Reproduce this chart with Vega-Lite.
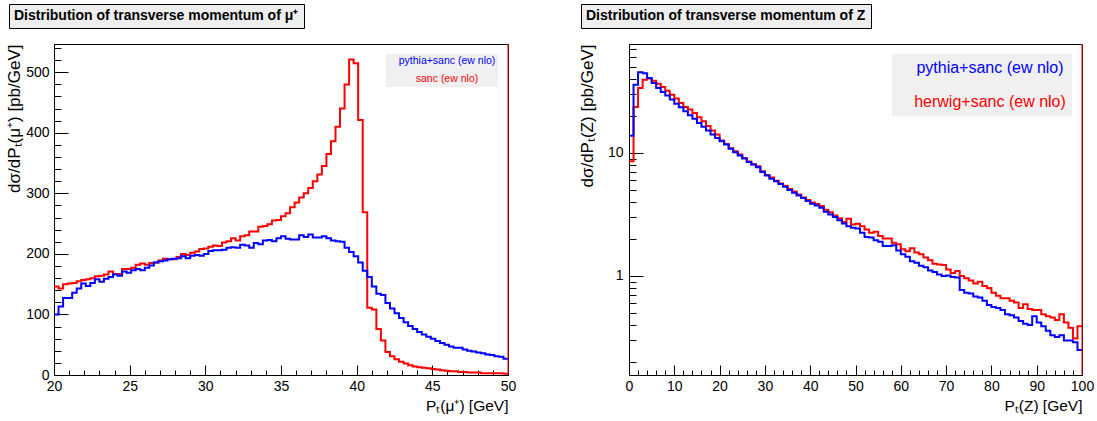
{
"$schema": "https://vega.github.io/schema/vega-lite/v6.json",
"background": "white",
"padding": {"left": 4, "top": 3, "right": 2, "bottom": 2},
"bounds": "flush",
"spacing": 121,
"config": {
 "font": "Liberation Sans",
 "view": {"stroke": "#000000", "strokeWidth": 1},
 "axis": {"grid": false, "domainColor": "#000000", "tickColor": "#000000", "labelColor": "#000000", "titleColor": "#000000", "labelFont": "Liberation Sans", "titleFont": "Liberation Sans", "labelFontSize": 13, "titleFontWeight": "normal", "labelFlush": false, "labelOverlap": false, "tickWidth": 1, "domainWidth": 1}
},
"resolve": {"scale": {"color": "independent", "opacity": "independent"}, "legend": {"color": "independent", "opacity": "independent"}},
"datasets": {
"mu": [
{"s":"sanc (ew nlo)","lo":20,"hi":20.3,"y":146},{"s":"sanc (ew nlo)","lo":20.3,"hi":20.6,"y":143},{"s":"sanc (ew nlo)","lo":20.6,"hi":20.9,"y":150},{"s":"sanc (ew nlo)","lo":20.9,"hi":21.2,"y":151},{"s":"sanc (ew nlo)","lo":21.2,"hi":21.5,"y":152},{"s":"sanc (ew nlo)","lo":21.5,"hi":21.8,"y":155},{"s":"sanc (ew nlo)","lo":21.8,"hi":22.1,"y":157},{"s":"sanc (ew nlo)","lo":22.1,"hi":22.4,"y":158},{"s":"sanc (ew nlo)","lo":22.4,"hi":22.7,"y":160},{"s":"sanc (ew nlo)","lo":22.7,"hi":23,"y":163},
{"s":"sanc (ew nlo)","lo":23,"hi":23.3,"y":164},{"s":"sanc (ew nlo)","lo":23.3,"hi":23.6,"y":166},{"s":"sanc (ew nlo)","lo":23.6,"hi":23.9,"y":171},{"s":"sanc (ew nlo)","lo":23.9,"hi":24.2,"y":167},{"s":"sanc (ew nlo)","lo":24.2,"hi":24.5,"y":167},{"s":"sanc (ew nlo)","lo":24.5,"hi":24.8,"y":175},{"s":"sanc (ew nlo)","lo":24.8,"hi":25.1,"y":175},{"s":"sanc (ew nlo)","lo":25.1,"hi":25.4,"y":177},{"s":"sanc (ew nlo)","lo":25.4,"hi":25.7,"y":182},{"s":"sanc (ew nlo)","lo":25.7,"hi":26,"y":184},
{"s":"sanc (ew nlo)","lo":26,"hi":26.3,"y":182},{"s":"sanc (ew nlo)","lo":26.3,"hi":26.6,"y":185},{"s":"sanc (ew nlo)","lo":26.6,"hi":26.9,"y":186},{"s":"sanc (ew nlo)","lo":26.9,"hi":27.2,"y":189},{"s":"sanc (ew nlo)","lo":27.2,"hi":27.5,"y":192},{"s":"sanc (ew nlo)","lo":27.5,"hi":27.8,"y":191},{"s":"sanc (ew nlo)","lo":27.8,"hi":28.1,"y":191},{"s":"sanc (ew nlo)","lo":28.1,"hi":28.4,"y":195},{"s":"sanc (ew nlo)","lo":28.4,"hi":28.7,"y":200},{"s":"sanc (ew nlo)","lo":28.7,"hi":29,"y":198},
{"s":"sanc (ew nlo)","lo":29,"hi":29.3,"y":202},{"s":"sanc (ew nlo)","lo":29.3,"hi":29.6,"y":204},{"s":"sanc (ew nlo)","lo":29.6,"hi":29.9,"y":208},{"s":"sanc (ew nlo)","lo":29.9,"hi":30.2,"y":209},{"s":"sanc (ew nlo)","lo":30.2,"hi":30.5,"y":212},{"s":"sanc (ew nlo)","lo":30.5,"hi":30.8,"y":214},{"s":"sanc (ew nlo)","lo":30.8,"hi":31.1,"y":213},{"s":"sanc (ew nlo)","lo":31.1,"hi":31.4,"y":219},{"s":"sanc (ew nlo)","lo":31.4,"hi":31.7,"y":221},{"s":"sanc (ew nlo)","lo":31.7,"hi":32,"y":226},
{"s":"sanc (ew nlo)","lo":32,"hi":32.3,"y":222},{"s":"sanc (ew nlo)","lo":32.3,"hi":32.6,"y":229},{"s":"sanc (ew nlo)","lo":32.6,"hi":32.9,"y":231},{"s":"sanc (ew nlo)","lo":32.9,"hi":33.2,"y":237},{"s":"sanc (ew nlo)","lo":33.2,"hi":33.5,"y":237},{"s":"sanc (ew nlo)","lo":33.5,"hi":33.8,"y":245},{"s":"sanc (ew nlo)","lo":33.8,"hi":34.1,"y":246},{"s":"sanc (ew nlo)","lo":34.1,"hi":34.4,"y":249},{"s":"sanc (ew nlo)","lo":34.4,"hi":34.7,"y":255},{"s":"sanc (ew nlo)","lo":34.7,"hi":35,"y":256},
{"s":"sanc (ew nlo)","lo":35,"hi":35.3,"y":262},{"s":"sanc (ew nlo)","lo":35.3,"hi":35.6,"y":267},{"s":"sanc (ew nlo)","lo":35.6,"hi":35.9,"y":277},{"s":"sanc (ew nlo)","lo":35.9,"hi":36.2,"y":285},{"s":"sanc (ew nlo)","lo":36.2,"hi":36.5,"y":293},{"s":"sanc (ew nlo)","lo":36.5,"hi":36.8,"y":300},{"s":"sanc (ew nlo)","lo":36.8,"hi":37.1,"y":309},{"s":"sanc (ew nlo)","lo":37.1,"hi":37.4,"y":320},{"s":"sanc (ew nlo)","lo":37.4,"hi":37.7,"y":331},{"s":"sanc (ew nlo)","lo":37.7,"hi":38,"y":345},
{"s":"sanc (ew nlo)","lo":38,"hi":38.3,"y":365},{"s":"sanc (ew nlo)","lo":38.3,"hi":38.6,"y":386},{"s":"sanc (ew nlo)","lo":38.6,"hi":38.9,"y":410},{"s":"sanc (ew nlo)","lo":38.9,"hi":39.2,"y":440},{"s":"sanc (ew nlo)","lo":39.2,"hi":39.5,"y":480},{"s":"sanc (ew nlo)","lo":39.5,"hi":39.8,"y":521},{"s":"sanc (ew nlo)","lo":39.8,"hi":40.1,"y":515},{"s":"sanc (ew nlo)","lo":40.1,"hi":40.4,"y":421},{"s":"sanc (ew nlo)","lo":40.4,"hi":40.7,"y":269},{"s":"sanc (ew nlo)","lo":40.7,"hi":41,"y":111},
{"s":"sanc (ew nlo)","lo":41,"hi":41.3,"y":108},{"s":"sanc (ew nlo)","lo":41.3,"hi":41.6,"y":76},{"s":"sanc (ew nlo)","lo":41.6,"hi":41.9,"y":57},{"s":"sanc (ew nlo)","lo":41.9,"hi":42.2,"y":38},{"s":"sanc (ew nlo)","lo":42.2,"hi":42.5,"y":31},{"s":"sanc (ew nlo)","lo":42.5,"hi":42.8,"y":26},{"s":"sanc (ew nlo)","lo":42.8,"hi":43.1,"y":22},{"s":"sanc (ew nlo)","lo":43.1,"hi":43.4,"y":19},{"s":"sanc (ew nlo)","lo":43.4,"hi":43.7,"y":16},{"s":"sanc (ew nlo)","lo":43.7,"hi":44,"y":14},
{"s":"sanc (ew nlo)","lo":44,"hi":44.3,"y":13},{"s":"sanc (ew nlo)","lo":44.3,"hi":44.6,"y":12},{"s":"sanc (ew nlo)","lo":44.6,"hi":44.9,"y":11},{"s":"sanc (ew nlo)","lo":44.9,"hi":45.2,"y":10},{"s":"sanc (ew nlo)","lo":45.2,"hi":45.5,"y":9},{"s":"sanc (ew nlo)","lo":45.5,"hi":45.8,"y":8},{"s":"sanc (ew nlo)","lo":45.8,"hi":46.1,"y":7},{"s":"sanc (ew nlo)","lo":46.1,"hi":46.4,"y":6},{"s":"sanc (ew nlo)","lo":46.4,"hi":46.7,"y":6},{"s":"sanc (ew nlo)","lo":46.7,"hi":47,"y":5},
{"s":"sanc (ew nlo)","lo":47,"hi":47.3,"y":5},{"s":"sanc (ew nlo)","lo":47.3,"hi":47.6,"y":4},{"s":"sanc (ew nlo)","lo":47.6,"hi":47.9,"y":4},{"s":"sanc (ew nlo)","lo":47.9,"hi":48.2,"y":4},{"s":"sanc (ew nlo)","lo":48.2,"hi":48.5,"y":3},{"s":"sanc (ew nlo)","lo":48.5,"hi":48.8,"y":3},{"s":"sanc (ew nlo)","lo":48.8,"hi":49.1,"y":3},{"s":"sanc (ew nlo)","lo":49.1,"hi":49.4,"y":3},{"s":"sanc (ew nlo)","lo":49.4,"hi":49.7,"y":3},{"s":"sanc (ew nlo)","lo":49.7,"hi":50,"y":2},
{"s":"pythia+sanc (ew nlo)","lo":20,"hi":20.3,"y":100},{"s":"pythia+sanc (ew nlo)","lo":20.3,"hi":20.6,"y":113},{"s":"pythia+sanc (ew nlo)","lo":20.6,"hi":20.9,"y":127},{"s":"pythia+sanc (ew nlo)","lo":20.9,"hi":21.2,"y":127},{"s":"pythia+sanc (ew nlo)","lo":21.2,"hi":21.5,"y":136},{"s":"pythia+sanc (ew nlo)","lo":21.5,"hi":21.8,"y":143},{"s":"pythia+sanc (ew nlo)","lo":21.8,"hi":22.1,"y":151},{"s":"pythia+sanc (ew nlo)","lo":22.1,"hi":22.4,"y":147},{"s":"pythia+sanc (ew nlo)","lo":22.4,"hi":22.7,"y":152},{"s":"pythia+sanc (ew nlo)","lo":22.7,"hi":23,"y":158},
{"s":"pythia+sanc (ew nlo)","lo":23,"hi":23.3,"y":154},{"s":"pythia+sanc (ew nlo)","lo":23.3,"hi":23.6,"y":159},{"s":"pythia+sanc (ew nlo)","lo":23.6,"hi":23.9,"y":162},{"s":"pythia+sanc (ew nlo)","lo":23.9,"hi":24.2,"y":166},{"s":"pythia+sanc (ew nlo)","lo":24.2,"hi":24.5,"y":164},{"s":"pythia+sanc (ew nlo)","lo":24.5,"hi":24.8,"y":171},{"s":"pythia+sanc (ew nlo)","lo":24.8,"hi":25.1,"y":169},{"s":"pythia+sanc (ew nlo)","lo":25.1,"hi":25.4,"y":173},{"s":"pythia+sanc (ew nlo)","lo":25.4,"hi":25.7,"y":175},{"s":"pythia+sanc (ew nlo)","lo":25.7,"hi":26,"y":173},
{"s":"pythia+sanc (ew nlo)","lo":26,"hi":26.3,"y":177},{"s":"pythia+sanc (ew nlo)","lo":26.3,"hi":26.6,"y":181},{"s":"pythia+sanc (ew nlo)","lo":26.6,"hi":26.9,"y":186},{"s":"pythia+sanc (ew nlo)","lo":26.9,"hi":27.2,"y":188},{"s":"pythia+sanc (ew nlo)","lo":27.2,"hi":27.5,"y":189},{"s":"pythia+sanc (ew nlo)","lo":27.5,"hi":27.8,"y":191},{"s":"pythia+sanc (ew nlo)","lo":27.8,"hi":28.1,"y":192},{"s":"pythia+sanc (ew nlo)","lo":28.1,"hi":28.4,"y":193},{"s":"pythia+sanc (ew nlo)","lo":28.4,"hi":28.7,"y":196},{"s":"pythia+sanc (ew nlo)","lo":28.7,"hi":29,"y":193},
{"s":"pythia+sanc (ew nlo)","lo":29,"hi":29.3,"y":197},{"s":"pythia+sanc (ew nlo)","lo":29.3,"hi":29.6,"y":198},{"s":"pythia+sanc (ew nlo)","lo":29.6,"hi":29.9,"y":197},{"s":"pythia+sanc (ew nlo)","lo":29.9,"hi":30.2,"y":200},{"s":"pythia+sanc (ew nlo)","lo":30.2,"hi":30.5,"y":205},{"s":"pythia+sanc (ew nlo)","lo":30.5,"hi":30.8,"y":206},{"s":"pythia+sanc (ew nlo)","lo":30.8,"hi":31.1,"y":206},{"s":"pythia+sanc (ew nlo)","lo":31.1,"hi":31.4,"y":207},{"s":"pythia+sanc (ew nlo)","lo":31.4,"hi":31.7,"y":210},{"s":"pythia+sanc (ew nlo)","lo":31.7,"hi":32,"y":211},
{"s":"pythia+sanc (ew nlo)","lo":32,"hi":32.3,"y":210},{"s":"pythia+sanc (ew nlo)","lo":32.3,"hi":32.6,"y":215},{"s":"pythia+sanc (ew nlo)","lo":32.6,"hi":32.9,"y":214},{"s":"pythia+sanc (ew nlo)","lo":32.9,"hi":33.2,"y":210},{"s":"pythia+sanc (ew nlo)","lo":33.2,"hi":33.5,"y":218},{"s":"pythia+sanc (ew nlo)","lo":33.5,"hi":33.8,"y":216},{"s":"pythia+sanc (ew nlo)","lo":33.8,"hi":34.1,"y":222},{"s":"pythia+sanc (ew nlo)","lo":34.1,"hi":34.4,"y":223},{"s":"pythia+sanc (ew nlo)","lo":34.4,"hi":34.7,"y":221},{"s":"pythia+sanc (ew nlo)","lo":34.7,"hi":35,"y":226},
{"s":"pythia+sanc (ew nlo)","lo":35,"hi":35.3,"y":229},{"s":"pythia+sanc (ew nlo)","lo":35.3,"hi":35.6,"y":225},{"s":"pythia+sanc (ew nlo)","lo":35.6,"hi":35.9,"y":224},{"s":"pythia+sanc (ew nlo)","lo":35.9,"hi":36.2,"y":224},{"s":"pythia+sanc (ew nlo)","lo":36.2,"hi":36.5,"y":231},{"s":"pythia+sanc (ew nlo)","lo":36.5,"hi":36.8,"y":228},{"s":"pythia+sanc (ew nlo)","lo":36.8,"hi":37.1,"y":232},{"s":"pythia+sanc (ew nlo)","lo":37.1,"hi":37.4,"y":227},{"s":"pythia+sanc (ew nlo)","lo":37.4,"hi":37.7,"y":227},{"s":"pythia+sanc (ew nlo)","lo":37.7,"hi":38,"y":229},
{"s":"pythia+sanc (ew nlo)","lo":38,"hi":38.3,"y":226},{"s":"pythia+sanc (ew nlo)","lo":38.3,"hi":38.6,"y":222},{"s":"pythia+sanc (ew nlo)","lo":38.6,"hi":38.9,"y":221},{"s":"pythia+sanc (ew nlo)","lo":38.9,"hi":39.2,"y":220},{"s":"pythia+sanc (ew nlo)","lo":39.2,"hi":39.5,"y":210},{"s":"pythia+sanc (ew nlo)","lo":39.5,"hi":39.8,"y":203},{"s":"pythia+sanc (ew nlo)","lo":39.8,"hi":40.1,"y":196},{"s":"pythia+sanc (ew nlo)","lo":40.1,"hi":40.4,"y":186},{"s":"pythia+sanc (ew nlo)","lo":40.4,"hi":40.7,"y":172},{"s":"pythia+sanc (ew nlo)","lo":40.7,"hi":41,"y":162},
{"s":"pythia+sanc (ew nlo)","lo":41,"hi":41.3,"y":146},{"s":"pythia+sanc (ew nlo)","lo":41.3,"hi":41.6,"y":134},{"s":"pythia+sanc (ew nlo)","lo":41.6,"hi":41.9,"y":132},{"s":"pythia+sanc (ew nlo)","lo":41.9,"hi":42.2,"y":119},{"s":"pythia+sanc (ew nlo)","lo":42.2,"hi":42.5,"y":110},{"s":"pythia+sanc (ew nlo)","lo":42.5,"hi":42.8,"y":102},{"s":"pythia+sanc (ew nlo)","lo":42.8,"hi":43.1,"y":94},{"s":"pythia+sanc (ew nlo)","lo":43.1,"hi":43.4,"y":87},{"s":"pythia+sanc (ew nlo)","lo":43.4,"hi":43.7,"y":81},{"s":"pythia+sanc (ew nlo)","lo":43.7,"hi":44,"y":76},
{"s":"pythia+sanc (ew nlo)","lo":44,"hi":44.3,"y":71},{"s":"pythia+sanc (ew nlo)","lo":44.3,"hi":44.6,"y":67},{"s":"pythia+sanc (ew nlo)","lo":44.6,"hi":44.9,"y":63},{"s":"pythia+sanc (ew nlo)","lo":44.9,"hi":45.2,"y":60},{"s":"pythia+sanc (ew nlo)","lo":45.2,"hi":45.5,"y":56},{"s":"pythia+sanc (ew nlo)","lo":45.5,"hi":45.8,"y":53},{"s":"pythia+sanc (ew nlo)","lo":45.8,"hi":46.1,"y":50},{"s":"pythia+sanc (ew nlo)","lo":46.1,"hi":46.4,"y":47},{"s":"pythia+sanc (ew nlo)","lo":46.4,"hi":46.7,"y":45},{"s":"pythia+sanc (ew nlo)","lo":46.7,"hi":47,"y":45},
{"s":"pythia+sanc (ew nlo)","lo":47,"hi":47.3,"y":42},{"s":"pythia+sanc (ew nlo)","lo":47.3,"hi":47.6,"y":40},{"s":"pythia+sanc (ew nlo)","lo":47.6,"hi":47.9,"y":39},{"s":"pythia+sanc (ew nlo)","lo":47.9,"hi":48.2,"y":37},{"s":"pythia+sanc (ew nlo)","lo":48.2,"hi":48.5,"y":36},{"s":"pythia+sanc (ew nlo)","lo":48.5,"hi":48.8,"y":34},{"s":"pythia+sanc (ew nlo)","lo":48.8,"hi":49.1,"y":33},{"s":"pythia+sanc (ew nlo)","lo":49.1,"hi":49.4,"y":31},{"s":"pythia+sanc (ew nlo)","lo":49.4,"hi":49.7,"y":30},{"s":"pythia+sanc (ew nlo)","lo":49.7,"hi":50,"y":27}
],
"z": [
{"s":"herwig+sanc (ew nlo)","lo":0,"hi":1,"y":8.56},{"s":"herwig+sanc (ew nlo)","lo":1,"hi":2,"y":23.6},{"s":"herwig+sanc (ew nlo)","lo":2,"hi":3,"y":33.7},{"s":"herwig+sanc (ew nlo)","lo":3,"hi":4,"y":39.3},{"s":"herwig+sanc (ew nlo)","lo":4,"hi":5,"y":40.1},{"s":"herwig+sanc (ew nlo)","lo":5,"hi":6,"y":38.6},{"s":"herwig+sanc (ew nlo)","lo":6,"hi":7,"y":36.5},{"s":"herwig+sanc (ew nlo)","lo":7,"hi":8,"y":34.3},{"s":"herwig+sanc (ew nlo)","lo":8,"hi":9,"y":32.0},{"s":"herwig+sanc (ew nlo)","lo":9,"hi":10,"y":29.7},
{"s":"herwig+sanc (ew nlo)","lo":10,"hi":11,"y":27.6},{"s":"herwig+sanc (ew nlo)","lo":11,"hi":12,"y":25.4},{"s":"herwig+sanc (ew nlo)","lo":12,"hi":13,"y":23.6},{"s":"herwig+sanc (ew nlo)","lo":13,"hi":14,"y":22.5},{"s":"herwig+sanc (ew nlo)","lo":14,"hi":15,"y":21.1},{"s":"herwig+sanc (ew nlo)","lo":15,"hi":16,"y":19.5},{"s":"herwig+sanc (ew nlo)","lo":16,"hi":17,"y":18.1},{"s":"herwig+sanc (ew nlo)","lo":17,"hi":18,"y":16.5},{"s":"herwig+sanc (ew nlo)","lo":18,"hi":19,"y":15.2},{"s":"herwig+sanc (ew nlo)","lo":19,"hi":20,"y":14.1},
{"s":"herwig+sanc (ew nlo)","lo":20,"hi":21,"y":12.6},{"s":"herwig+sanc (ew nlo)","lo":21,"hi":22,"y":11.8},{"s":"herwig+sanc (ew nlo)","lo":22,"hi":23,"y":10.9},{"s":"herwig+sanc (ew nlo)","lo":23,"hi":24,"y":10.3},{"s":"herwig+sanc (ew nlo)","lo":24,"hi":25,"y":9.7},{"s":"herwig+sanc (ew nlo)","lo":25,"hi":26,"y":9.1},{"s":"herwig+sanc (ew nlo)","lo":26,"hi":27,"y":8.5},{"s":"herwig+sanc (ew nlo)","lo":27,"hi":28,"y":8.1},{"s":"herwig+sanc (ew nlo)","lo":28,"hi":29,"y":7.8},{"s":"herwig+sanc (ew nlo)","lo":29,"hi":30,"y":7.1},
{"s":"herwig+sanc (ew nlo)","lo":30,"hi":31,"y":6.6},{"s":"herwig+sanc (ew nlo)","lo":31,"hi":32,"y":6.3},{"s":"herwig+sanc (ew nlo)","lo":32,"hi":33,"y":5.95},{"s":"herwig+sanc (ew nlo)","lo":33,"hi":34,"y":5.65},{"s":"herwig+sanc (ew nlo)","lo":34,"hi":35,"y":5.4},{"s":"herwig+sanc (ew nlo)","lo":35,"hi":36,"y":5.1},{"s":"herwig+sanc (ew nlo)","lo":36,"hi":37,"y":4.85},{"s":"herwig+sanc (ew nlo)","lo":37,"hi":38,"y":4.6},{"s":"herwig+sanc (ew nlo)","lo":38,"hi":39,"y":4.35},{"s":"herwig+sanc (ew nlo)","lo":39,"hi":40,"y":4.15},
{"s":"herwig+sanc (ew nlo)","lo":40,"hi":41,"y":3.95},{"s":"herwig+sanc (ew nlo)","lo":41,"hi":42,"y":3.85},{"s":"herwig+sanc (ew nlo)","lo":42,"hi":43,"y":3.7},{"s":"herwig+sanc (ew nlo)","lo":43,"hi":44,"y":3.45},{"s":"herwig+sanc (ew nlo)","lo":44,"hi":45,"y":3.3},{"s":"herwig+sanc (ew nlo)","lo":45,"hi":46,"y":3.1},{"s":"herwig+sanc (ew nlo)","lo":46,"hi":47,"y":2.95},{"s":"herwig+sanc (ew nlo)","lo":47,"hi":48,"y":2.75},{"s":"herwig+sanc (ew nlo)","lo":48,"hi":49,"y":2.92},{"s":"herwig+sanc (ew nlo)","lo":49,"hi":50,"y":2.62},
{"s":"herwig+sanc (ew nlo)","lo":50,"hi":51,"y":2.66},{"s":"herwig+sanc (ew nlo)","lo":51,"hi":52,"y":2.54},{"s":"herwig+sanc (ew nlo)","lo":52,"hi":53,"y":2.39},{"s":"herwig+sanc (ew nlo)","lo":53,"hi":54,"y":2.25},{"s":"herwig+sanc (ew nlo)","lo":54,"hi":55,"y":2.29},{"s":"herwig+sanc (ew nlo)","lo":55,"hi":56,"y":2.11},{"s":"herwig+sanc (ew nlo)","lo":56,"hi":57,"y":2.02},{"s":"herwig+sanc (ew nlo)","lo":57,"hi":58,"y":2.02},{"s":"herwig+sanc (ew nlo)","lo":58,"hi":59,"y":1.86},{"s":"herwig+sanc (ew nlo)","lo":59,"hi":60,"y":1.81},
{"s":"herwig+sanc (ew nlo)","lo":60,"hi":61,"y":1.65},{"s":"herwig+sanc (ew nlo)","lo":61,"hi":62,"y":1.59},{"s":"herwig+sanc (ew nlo)","lo":62,"hi":63,"y":1.68},{"s":"herwig+sanc (ew nlo)","lo":63,"hi":64,"y":1.55},{"s":"herwig+sanc (ew nlo)","lo":64,"hi":65,"y":1.50},{"s":"herwig+sanc (ew nlo)","lo":65,"hi":66,"y":1.41},{"s":"herwig+sanc (ew nlo)","lo":66,"hi":67,"y":1.34},{"s":"herwig+sanc (ew nlo)","lo":67,"hi":68,"y":1.26},{"s":"herwig+sanc (ew nlo)","lo":68,"hi":69,"y":1.24},{"s":"herwig+sanc (ew nlo)","lo":69,"hi":70,"y":1.23},
{"s":"herwig+sanc (ew nlo)","lo":70,"hi":71,"y":1.13},{"s":"herwig+sanc (ew nlo)","lo":71,"hi":72,"y":1.06},{"s":"herwig+sanc (ew nlo)","lo":72,"hi":73,"y":1.10},{"s":"herwig+sanc (ew nlo)","lo":73,"hi":74,"y":1.00},{"s":"herwig+sanc (ew nlo)","lo":74,"hi":75,"y":0.96},{"s":"herwig+sanc (ew nlo)","lo":75,"hi":76,"y":0.92},{"s":"herwig+sanc (ew nlo)","lo":76,"hi":77,"y":0.87},{"s":"herwig+sanc (ew nlo)","lo":77,"hi":78,"y":0.90},{"s":"herwig+sanc (ew nlo)","lo":78,"hi":79,"y":0.83},{"s":"herwig+sanc (ew nlo)","lo":79,"hi":80,"y":0.80},
{"s":"herwig+sanc (ew nlo)","lo":80,"hi":81,"y":0.73},{"s":"herwig+sanc (ew nlo)","lo":81,"hi":82,"y":0.69},{"s":"herwig+sanc (ew nlo)","lo":82,"hi":83,"y":0.66},{"s":"herwig+sanc (ew nlo)","lo":83,"hi":84,"y":0.66},{"s":"herwig+sanc (ew nlo)","lo":84,"hi":85,"y":0.63},{"s":"herwig+sanc (ew nlo)","lo":85,"hi":86,"y":0.61},{"s":"herwig+sanc (ew nlo)","lo":86,"hi":87,"y":0.55},{"s":"herwig+sanc (ew nlo)","lo":87,"hi":88,"y":0.59},{"s":"herwig+sanc (ew nlo)","lo":88,"hi":89,"y":0.54},{"s":"herwig+sanc (ew nlo)","lo":89,"hi":90,"y":0.53},
{"s":"herwig+sanc (ew nlo)","lo":90,"hi":91,"y":0.53},{"s":"herwig+sanc (ew nlo)","lo":91,"hi":92,"y":0.49},{"s":"herwig+sanc (ew nlo)","lo":92,"hi":93,"y":0.47},{"s":"herwig+sanc (ew nlo)","lo":93,"hi":94,"y":0.46},{"s":"herwig+sanc (ew nlo)","lo":94,"hi":95,"y":0.44},{"s":"herwig+sanc (ew nlo)","lo":95,"hi":96,"y":0.49},{"s":"herwig+sanc (ew nlo)","lo":96,"hi":97,"y":0.42},{"s":"herwig+sanc (ew nlo)","lo":97,"hi":98,"y":0.38},{"s":"herwig+sanc (ew nlo)","lo":98,"hi":99,"y":0.31},{"s":"herwig+sanc (ew nlo)","lo":99,"hi":100,"y":0.39},
{"s":"pythia+sanc (ew nlo)","lo":0,"hi":1,"y":13.8},{"s":"pythia+sanc (ew nlo)","lo":1,"hi":2,"y":35.8},{"s":"pythia+sanc (ew nlo)","lo":2,"hi":3,"y":45.1},{"s":"pythia+sanc (ew nlo)","lo":3,"hi":4,"y":44.3},{"s":"pythia+sanc (ew nlo)","lo":4,"hi":5,"y":40.5},{"s":"pythia+sanc (ew nlo)","lo":5,"hi":6,"y":36.9},{"s":"pythia+sanc (ew nlo)","lo":6,"hi":7,"y":33.7},{"s":"pythia+sanc (ew nlo)","lo":7,"hi":8,"y":31.2},{"s":"pythia+sanc (ew nlo)","lo":8,"hi":9,"y":29.2},{"s":"pythia+sanc (ew nlo)","lo":9,"hi":10,"y":27.1},
{"s":"pythia+sanc (ew nlo)","lo":10,"hi":11,"y":25.0},{"s":"pythia+sanc (ew nlo)","lo":11,"hi":12,"y":23.5},{"s":"pythia+sanc (ew nlo)","lo":12,"hi":13,"y":21.8},{"s":"pythia+sanc (ew nlo)","lo":13,"hi":14,"y":20.2},{"s":"pythia+sanc (ew nlo)","lo":14,"hi":15,"y":18.9},{"s":"pythia+sanc (ew nlo)","lo":15,"hi":16,"y":17.5},{"s":"pythia+sanc (ew nlo)","lo":16,"hi":17,"y":16.3},{"s":"pythia+sanc (ew nlo)","lo":17,"hi":18,"y":15.2},{"s":"pythia+sanc (ew nlo)","lo":18,"hi":19,"y":14.1},{"s":"pythia+sanc (ew nlo)","lo":19,"hi":20,"y":13.2},
{"s":"pythia+sanc (ew nlo)","lo":20,"hi":21,"y":12.4},{"s":"pythia+sanc (ew nlo)","lo":21,"hi":22,"y":11.7},{"s":"pythia+sanc (ew nlo)","lo":22,"hi":23,"y":10.8},{"s":"pythia+sanc (ew nlo)","lo":23,"hi":24,"y":10.1},{"s":"pythia+sanc (ew nlo)","lo":24,"hi":25,"y":9.5},{"s":"pythia+sanc (ew nlo)","lo":25,"hi":26,"y":9.0},{"s":"pythia+sanc (ew nlo)","lo":26,"hi":27,"y":8.45},{"s":"pythia+sanc (ew nlo)","lo":27,"hi":28,"y":8.04},{"s":"pythia+sanc (ew nlo)","lo":28,"hi":29,"y":7.65},{"s":"pythia+sanc (ew nlo)","lo":29,"hi":30,"y":7.0},
{"s":"pythia+sanc (ew nlo)","lo":30,"hi":31,"y":6.55},{"s":"pythia+sanc (ew nlo)","lo":31,"hi":32,"y":6.15},{"s":"pythia+sanc (ew nlo)","lo":32,"hi":33,"y":5.89},{"s":"pythia+sanc (ew nlo)","lo":33,"hi":34,"y":5.6},{"s":"pythia+sanc (ew nlo)","lo":34,"hi":35,"y":5.3},{"s":"pythia+sanc (ew nlo)","lo":35,"hi":36,"y":5.0},{"s":"pythia+sanc (ew nlo)","lo":36,"hi":37,"y":4.74},{"s":"pythia+sanc (ew nlo)","lo":37,"hi":38,"y":4.51},{"s":"pythia+sanc (ew nlo)","lo":38,"hi":39,"y":4.29},{"s":"pythia+sanc (ew nlo)","lo":39,"hi":40,"y":4.06},
{"s":"pythia+sanc (ew nlo)","lo":40,"hi":41,"y":3.86},{"s":"pythia+sanc (ew nlo)","lo":41,"hi":42,"y":3.74},{"s":"pythia+sanc (ew nlo)","lo":42,"hi":43,"y":3.58},{"s":"pythia+sanc (ew nlo)","lo":43,"hi":44,"y":3.32},{"s":"pythia+sanc (ew nlo)","lo":44,"hi":45,"y":3.16},{"s":"pythia+sanc (ew nlo)","lo":45,"hi":46,"y":3.01},{"s":"pythia+sanc (ew nlo)","lo":46,"hi":47,"y":2.84},{"s":"pythia+sanc (ew nlo)","lo":47,"hi":48,"y":2.67},{"s":"pythia+sanc (ew nlo)","lo":48,"hi":49,"y":2.54},{"s":"pythia+sanc (ew nlo)","lo":49,"hi":50,"y":2.46},
{"s":"pythia+sanc (ew nlo)","lo":50,"hi":51,"y":2.43},{"s":"pythia+sanc (ew nlo)","lo":51,"hi":52,"y":2.25},{"s":"pythia+sanc (ew nlo)","lo":52,"hi":53,"y":2.07},{"s":"pythia+sanc (ew nlo)","lo":53,"hi":54,"y":2.05},{"s":"pythia+sanc (ew nlo)","lo":54,"hi":55,"y":1.95},{"s":"pythia+sanc (ew nlo)","lo":55,"hi":56,"y":1.90},{"s":"pythia+sanc (ew nlo)","lo":56,"hi":57,"y":1.75},{"s":"pythia+sanc (ew nlo)","lo":57,"hi":58,"y":1.75},{"s":"pythia+sanc (ew nlo)","lo":58,"hi":59,"y":1.78},{"s":"pythia+sanc (ew nlo)","lo":59,"hi":60,"y":1.61},
{"s":"pythia+sanc (ew nlo)","lo":60,"hi":61,"y":1.50},{"s":"pythia+sanc (ew nlo)","lo":61,"hi":62,"y":1.43},{"s":"pythia+sanc (ew nlo)","lo":62,"hi":63,"y":1.32},{"s":"pythia+sanc (ew nlo)","lo":63,"hi":64,"y":1.28},{"s":"pythia+sanc (ew nlo)","lo":64,"hi":65,"y":1.21},{"s":"pythia+sanc (ew nlo)","lo":65,"hi":66,"y":1.18},{"s":"pythia+sanc (ew nlo)","lo":66,"hi":67,"y":1.11},{"s":"pythia+sanc (ew nlo)","lo":67,"hi":68,"y":1.08},{"s":"pythia+sanc (ew nlo)","lo":68,"hi":69,"y":1.03},{"s":"pythia+sanc (ew nlo)","lo":69,"hi":70,"y":1.00},
{"s":"pythia+sanc (ew nlo)","lo":70,"hi":71,"y":1.01},{"s":"pythia+sanc (ew nlo)","lo":71,"hi":72,"y":0.98},{"s":"pythia+sanc (ew nlo)","lo":72,"hi":73,"y":0.97},{"s":"pythia+sanc (ew nlo)","lo":73,"hi":74,"y":0.77},{"s":"pythia+sanc (ew nlo)","lo":74,"hi":75,"y":0.73},{"s":"pythia+sanc (ew nlo)","lo":75,"hi":76,"y":0.72},{"s":"pythia+sanc (ew nlo)","lo":76,"hi":77,"y":0.68},{"s":"pythia+sanc (ew nlo)","lo":77,"hi":78,"y":0.67},{"s":"pythia+sanc (ew nlo)","lo":78,"hi":79,"y":0.63},{"s":"pythia+sanc (ew nlo)","lo":79,"hi":80,"y":0.58},
{"s":"pythia+sanc (ew nlo)","lo":80,"hi":81,"y":0.56},{"s":"pythia+sanc (ew nlo)","lo":81,"hi":82,"y":0.55},{"s":"pythia+sanc (ew nlo)","lo":82,"hi":83,"y":0.53},{"s":"pythia+sanc (ew nlo)","lo":83,"hi":84,"y":0.49},{"s":"pythia+sanc (ew nlo)","lo":84,"hi":85,"y":0.48},{"s":"pythia+sanc (ew nlo)","lo":85,"hi":86,"y":0.46},{"s":"pythia+sanc (ew nlo)","lo":86,"hi":87,"y":0.43},{"s":"pythia+sanc (ew nlo)","lo":87,"hi":88,"y":0.41},{"s":"pythia+sanc (ew nlo)","lo":88,"hi":89,"y":0.40},{"s":"pythia+sanc (ew nlo)","lo":89,"hi":90,"y":0.47},
{"s":"pythia+sanc (ew nlo)","lo":90,"hi":91,"y":0.42},{"s":"pythia+sanc (ew nlo)","lo":91,"hi":92,"y":0.39},{"s":"pythia+sanc (ew nlo)","lo":92,"hi":93,"y":0.36},{"s":"pythia+sanc (ew nlo)","lo":93,"hi":94,"y":0.33},{"s":"pythia+sanc (ew nlo)","lo":94,"hi":95,"y":0.32},{"s":"pythia+sanc (ew nlo)","lo":95,"hi":96,"y":0.33},{"s":"pythia+sanc (ew nlo)","lo":96,"hi":97,"y":0.30},{"s":"pythia+sanc (ew nlo)","lo":97,"hi":98,"y":0.30},{"s":"pythia+sanc (ew nlo)","lo":98,"hi":99,"y":0.29},{"s":"pythia+sanc (ew nlo)","lo":99,"hi":100,"y":0.25}
]
},
"hconcat": [
{
 "width": 454, "height": 331,
 "data": {"name": "mu"},
 "layer": [
  {
   "transform": [{"fold": ["lo", "hi"], "as": ["edge", "x"]}],
   "mark": {"type": "line", "strokeWidth": 2, "clip": true},
   "encoding": {
    "x": {"field": "x", "type": "quantitative", "scale": {"domain": [20, 50], "nice": false, "zero": false},
     "axis": {"values": [20,21,22,23,24,25,26,27,28,29,30,31,32,33,34,35,36,37,38,39,40,41,42,43,44,45,46,47,48,49,50], "tickCount": 1000, "format": "d",
      "labelExpr": "datum.value % 5 === 0 ? datum.label : ''", "labelOverlap": false, "labelFlush": false,
      "tickSize": {"condition": {"test": "datum.value % 5 === 0", "value": -10}, "value": -5},
      "labelPadding": 14, "labelFontSize": 14,
      "title": "Pₜ(μ⁺) [GeV]", "titleFontSize": 15.5, "titleAlign": "right", "titleX": 454, "titleY": 35, "titleBaseline": "alphabetic"}},
    "y": {"field": "y", "type": "quantitative", "scale": {"domain": [0, 546.7], "nice": false},
     "axis": {"values": [0,20,40,60,80,100,120,140,160,180,200,220,240,260,280,300,320,340,360,380,400,420,440,460,480,500,520,540], "tickCount": 1000, "format": "d",
      "labelExpr": "datum.value % 100 === 0 ? datum.label : ''", "labelOverlap": false,
      "tickSize": {"condition": {"test": "datum.value % 100 === 0", "value": -14}, "value": -7},
      "labelPadding": 19, "labelFontSize": 14,
      "title": "dσ/dPₜ(μ⁺) [pb/GeV]", "titleFontSize": 17, "titleAngle": -90, "titleAlign": "right", "titleBaseline": "middle", "titleX": -40, "titleY": 0}},
    "color": {"field": "s", "type": "nominal",
     "scale": {"domain": ["pythia+sanc (ew nlo)", "sanc (ew nlo)"], "range": ["#0000ff", "#ff0000"]},
     "legend": {"title": null, "orient": "top-right", "offset": 10, "fillColor": "#f0f0f0", "padding": 2, "rowPadding": 6.5,
      "symbolSize": 0, "symbolOpacity": 0, "symbolStrokeWidth": 0, "labelOffset": 48.5, "labelAlign": "center",
      "labelFont": "Liberation Sans", "labelFontSize": 10.5, "labelLimit": 300,
      "encode": {"labels": {"update": {"fill": {"signal": "datum.value === 'sanc (ew nlo)' ? '#ff0000' : '#0000ff'"}}}}}},
    "opacity": {"field": "s", "type": "ordinal", "scale": {"range": [1, 1]},
     "legend": {"values": [], "title": "Distribution of transverse momentum of μ⁺", "orient": "none", "legendX": -45, "legendY": -40,
      "fillColor": "#eeeeee", "strokeColor": "#000000", "padding": 5, "titlePadding": 0,
      "titleFont": "Liberation Sans", "titleFontSize": 14, "titleFontWeight": "bold", "titleColor": "#000000", "titleLimit": 600}},
    "order": [{"field": "lo", "type": "quantitative"}, {"field": "edge", "type": "nominal", "sort": "descending"}]
   }
  },
  {"data": {"values": [{}]}, "mark": {"type": "rule", "color": "#ff0000", "strokeWidth": 1}, "encoding": {"x": {"datum": 50}}}
 ]
},
{
 "width": 453, "height": 331,
 "data": {"name": "z"},
 "layer": [
  {
   "transform": [{"fold": ["lo", "hi"], "as": ["edge", "x"]}],
   "mark": {"type": "line", "strokeWidth": 2, "clip": true},
   "encoding": {
    "x": {"field": "x", "type": "quantitative", "scale": {"domain": [0, 100], "nice": false, "zero": false},
     "axis": {"values": [0,2,4,6,8,10,12,14,16,18,20,22,24,26,28,30,32,34,36,38,40,42,44,46,48,50,52,54,56,58,60,62,64,66,68,70,72,74,76,78,80,82,84,86,88,90,92,94,96,98,100], "tickCount": 1000, "format": "d",
      "labelExpr": "datum.value % 10 === 0 ? datum.label : ''", "labelOverlap": false, "labelFlush": false,
      "tickSize": {"condition": {"test": "datum.value % 10 === 0", "value": -10}, "value": -5},
      "labelPadding": 14, "labelFontSize": 14,
      "title": "Pₜ(Z) [GeV]", "titleFontSize": 15.5, "titleAlign": "right", "titleX": 453, "titleY": 35, "titleBaseline": "alphabetic"}},
    "y": {"field": "y", "type": "quantitative", "scale": {"type": "log", "domain": [0.157, 76.6], "nice": false},
     "axis": {"values": [0.2,0.3,0.4,0.5,0.6,0.7,0.8,0.9,1,2,3,4,5,6,7,8,9,10,20,30,40,50,60,70], "tickCount": 1000,
      "labelExpr": "datum.value === 1 ? '1' : (datum.value === 10 ? '10' : '')", "labelOverlap": false,
      "tickSize": {"condition": {"test": "datum.value === 1 || datum.value === 10", "value": -14}, "value": -7},
      "labelPadding": 20, "labelFontSize": 14,
      "title": "dσ/dPₜ(Z) [pb/GeV]", "titleFontSize": 17, "titleAngle": -90, "titleAlign": "right", "titleBaseline": "middle", "titleX": -42, "titleY": 0}},
    "color": {"field": "s", "type": "nominal",
     "scale": {"domain": ["pythia+sanc (ew nlo)", "herwig+sanc (ew nlo)"], "range": ["#0000ff", "#ff0000"]},
     "legend": {"title": null, "orient": "top-right", "offset": 10, "fillColor": "#f0f0f0", "padding": 6, "rowPadding": 18,
      "symbolSize": 0, "symbolOpacity": 0, "symbolStrokeWidth": 0, "labelOffset": 76, "labelAlign": "center",
      "labelFont": "Liberation Sans", "labelFontSize": 16, "labelLimit": 300,
      "encode": {"labels": {"update": {"fill": {"signal": "datum.value === 'herwig+sanc (ew nlo)' ? '#ff0000' : '#0000ff'"}}}}}},
    "opacity": {"field": "s", "type": "ordinal", "scale": {"range": [1, 1]},
     "legend": {"values": [], "title": "Distribution of transverse momentum of Z", "orient": "none", "legendX": -48, "legendY": -40,
      "fillColor": "#eeeeee", "strokeColor": "#000000", "padding": 5, "titlePadding": 0,
      "titleFont": "Liberation Sans", "titleFontSize": 14, "titleFontWeight": "bold", "titleColor": "#000000", "titleLimit": 600}},
    "order": [{"field": "lo", "type": "quantitative"}, {"field": "edge", "type": "nominal", "sort": "descending"}]
   }
  },
  {"data": {"values": [{}]}, "mark": {"type": "rule", "color": "#ff0000", "strokeWidth": 1}, "encoding": {"x": {"datum": 100}}}
 ]
}
]
}
